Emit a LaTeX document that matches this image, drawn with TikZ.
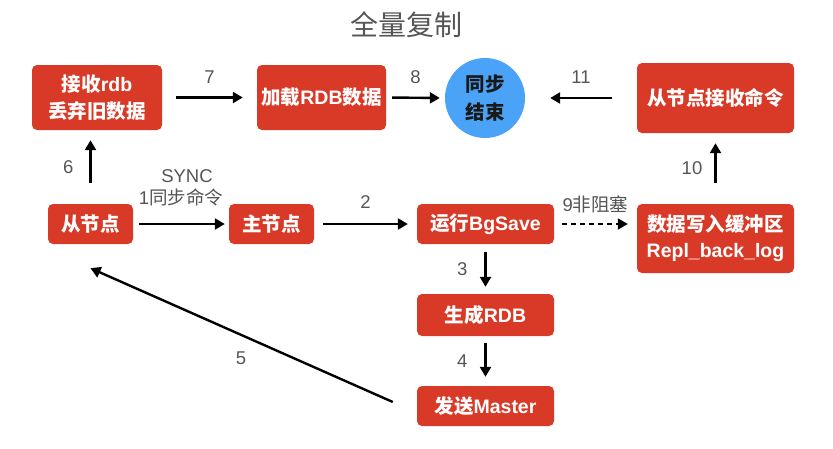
\documentclass[tikz,border=0pt]{standalone}
\usepackage{fontspec}
\setmainfont{Liberation Sans}
\newfontfamily\cjk{Noto Sans CJK SC}
\usetikzlibrary{arrows.meta,calc}
\definecolor{boxred}{HTML}{D93A28}
\definecolor{ballblue}{HTML}{4AA3F7}
\definecolor{lblgray}{HTML}{555555}
\tikzset{
  box/.style={draw=none,fill=boxred,rounded corners=5pt,text=white,font=\fontsize{19.5}{27}\selectfont\bfseries,align=center,inner sep=0pt},
  ball/.style={circle,fill=ballblue,text=black!90,font=\fontsize{19.5}{28}\selectfont\bfseries\cjk,align=center,minimum size=80pt,inner sep=0pt},
  lbl/.style={text=lblgray,font=\fontsize{18.5}{21}\selectfont,inner sep=0pt,align=center},
  conn/.style={line width=2.4pt,-{Triangle[length=10pt,width=11pt]}},
}
\begin{document}
\begin{tikzpicture}[x=1pt,y=-1pt]
\useasboundingbox (0,0) rectangle (833,448);
\node[text=lblgray,font=\fontsize{28}{30}\selectfont\cjk,inner sep=0pt] (title) at (406.5,25) {全量复制};

\node[box,minimum width=130pt,minimum height=65pt] (recv) at (97,97.5) {{\cjk 接收}rdb\\{\cjk 丢弃旧数据}};
\node[box,minimum width=129pt,minimum height=65pt] (load) at (321.5,97.5) {{\cjk 加载}RDB{\cjk 数据}};
\node[ball] (done) at (485,98) {同步\\结束};
\node[box,minimum width=157pt,minimum height=70pt] (scmd) at (715.5,98) {\cjk 从节点接收命令};
\node[box,minimum width=85pt,minimum height=40pt] (slave) at (90.5,224) {\cjk 从节点};
\node[box,minimum width=85pt,minimum height=40pt] (master) at (271.5,224) {\cjk 主节点};
\node[box,minimum width=137pt,minimum height=40pt] (bgsave) at (485.5,224) {{\cjk 运行}BgSave};
\node[box,minimum width=157pt,minimum height=69pt,font=\fontsize{19.5}{26}\selectfont\bfseries] (buffer) at (715.5,238.5) {{\cjk 数据写入缓冲区}\\Repl\_back\_log};
\node[box,minimum width=137pt,minimum height=42pt] (genrdb) at (485.5,315) {{\cjk 生成}RDB};
\node[box,minimum width=137pt,minimum height=40pt] (send) at (485.5,406) {{\cjk 发送}Master};

% 7
\draw[conn,shorten <=14pt,shorten >=14pt] (recv.east) -- (load.west) node[lbl,midway,above=13pt] (l7) {7};
% 8
\draw[conn,shorten <=6pt,shorten >=5pt] (load.east) -- (done.west) node[lbl,midway,above=13pt] (l8) {8};
% 11
\draw[conn,shorten <=25pt,shorten >=25pt] (scmd.west) -- (done.east) node[lbl,midway,above=13pt] (l11) {11};
% 6
\draw[conn,shorten <=21pt,shorten >=10pt] (slave.north) -- (slave.north |- recv.south) node[lbl,midway,left=16pt] (l6) {6};
% 1
\draw[conn,shorten <=6pt,shorten >=4pt] (slave.east) -- (master.west) coordinate[midway] (m1);
\node[lbl] (l1b) at ($(m1)+(0,-27)$) {1{\cjk 同步命令}};
\node[lbl] (l1a) at ($(m1)+(6,-48)$) {SYNC};
% 2
\draw[conn,shorten <=9pt,shorten >=9pt] (master.east) -- (bgsave.west) node[lbl,midway,above=14pt] (l2) {2};
% 9
\draw[conn,dashed,dash pattern=on 5pt off 4pt,line width=1.8pt,shorten <=8pt,shorten >=9pt] (bgsave.east) -- (bgsave.east -| buffer.west) node[lbl,midway,above=10pt] (l9) {9{\cjk 非阻塞}};
% 10
\draw[conn,shorten <=21pt,shorten >=10pt] (buffer.north) -- (scmd.south) node[lbl,midway,left=12pt] (l10) {10};
% 3
\draw[conn,shorten <=8pt,shorten >=7pt] (bgsave.south) -- (genrdb.north) node[lbl,midway,left=17pt] (l3) {3};
% 4
\draw[conn,shorten <=7pt,shorten >=9pt] (genrdb.south) -- (send.north) node[lbl,midway,left=17pt] (l4) {4};
% 5
\coordinate (s5) at ($(send.west)+(-24,-4)$);
\coordinate (e5) at ($(slave.south)+(0,24)$);
\draw[conn] (s5) -- (e5);
\node[lbl] (l5) at (241,358) {5};
\end{tikzpicture}
\end{document}
